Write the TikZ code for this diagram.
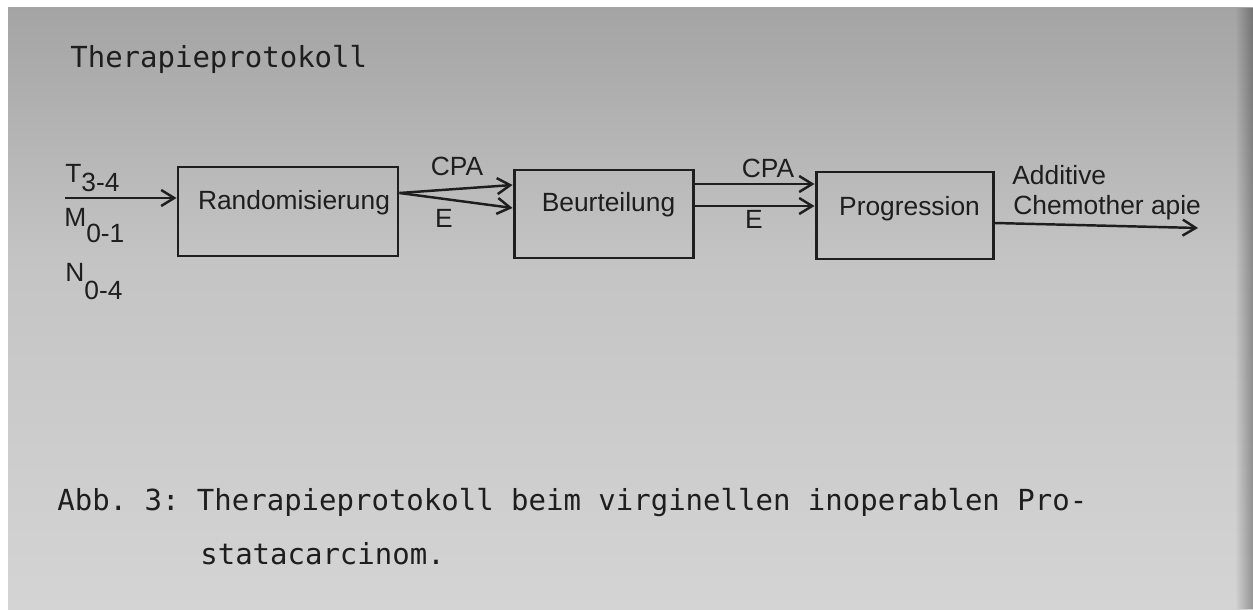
\documentclass[tikz,border=0pt]{standalone}
\usepackage{fontspec}
\setmainfont{Liberation Sans}
\setmonofont{DejaVu Sans Mono}
\usepackage{xcolor}
\definecolor{ink}{HTML}{1E1E1E}
\definecolor{papertop}{HTML}{A4A4A4}
\definecolor{papermid}{HTML}{C4C4C4}
\definecolor{paperbot}{HTML}{D4D4D4}
\usetikzlibrary{arrows.meta, positioning, calc, fadings}

\begin{document}
\begin{tikzpicture}[>={Straight Barb[length=2.6mm, width=3.2mm]},
  box/.style={draw=ink, line width=1.7pt},
  lettering/.style={font=\fontsize{15}{17}\selectfont, text=ink, inner sep=0pt},
  mono/.style={font=\ttfamily\fontsize{16.5}{19}\selectfont, text=ink, inner sep=0pt},
  arrow/.style={->, draw=ink, line width=1.4pt}]

  \useasboundingbox (0,0) rectangle (25.06,12.18);

  % Papier
  \fill[white] (0,0) rectangle (25.06,12.18);
  \shade[top color=papertop, bottom color=papermid] (0.16,7) rectangle (25.06,12.02);
  \shade[top color=papermid, bottom color=paperbot] (0.16,0) rectangle (25.06,7.01);
  \fill[black, fill opacity=0.3, path fading=west] (24.7,0) rectangle (25.06,12.02);

  % Titel
  \node[mono, anchor=base west] (title) at (1.40,10.82) {Therapieprotokoll};

  % Kaesten
  \node[box, minimum width=4.4cm, minimum height=1.78cm] (rand) at (5.76,7.95) {};
  \node[box, minimum width=3.58cm, minimum height=1.76cm] (beur) at (12.07,7.90) {};
  \node[box, minimum width=3.54cm, minimum height=1.74cm] (prog) at (18.09,7.87) {};
  \node[lettering, anchor=base] (randtext) at ([xshift=0.12cm, yshift=0.03cm]rand.center) {Randomisierung};
  \node[lettering, anchor=base] (beurtext) at ([xshift=0.1cm, yshift=0.04cm]beur.center) {Beurteilung};
  \node[lettering, anchor=base] (progtext) at ([xshift=0.1cm]prog.center) {Progression};

  % Eingang
  \node[lettering, anchor=base west] (tlabel) at (1.30,8.52) {T\raisebox{-0.18cm}{3-4}};
  \node[lettering, anchor=base west] (mlabel) at (1.28,7.64) {M\raisebox{-0.32cm}{0-1}};
  \node[lettering, anchor=base west] (nlabel) at (1.30,6.54) {N\raisebox{-0.36cm}{0-4}};
  \coordinate (tin) at (1.30,8.22);
  \draw[arrow] (tin) -- (tin -| rand.west);

  % Randomisierung -> Beurteilung
  \coordinate (rout) at ([yshift=0.37cm]rand.east);
  \draw[arrow] (rout) -- ([yshift=0.58cm]beur.west);
  \draw[arrow] (rout) -- ([yshift=0.12cm]beur.west);
  \node[lettering] (cpaone) at (9.14,8.86) {CPA};
  \node[lettering] (eone) at (8.88,7.82) {E};

  % Beurteilung -> Progression
  \draw[arrow] ([yshift=0.60cm]beur.east) -- ([yshift=0.60cm]beur.east -| prog.west);
  \draw[arrow] ([yshift=0.16cm]beur.east) -- ([yshift=0.16cm]beur.east -| prog.west);
  \node[lettering] (cpatwo) at (15.36,8.82) {CPA};
  \node[lettering] (etwo) at (15.08,7.80) {E};

  % Ausgang
  \coordinate (out) at (23.96,7.62);
  \draw[arrow] ([yshift=-0.15cm]prog.east) -- (out);
  \node[lettering, anchor=west] (addlabel) at (20.24,8.68) {Additive};
  \node[lettering, anchor=west] (chemlabel) at (20.26,8.02) {Chemother apie};

  % Legende
  \node[mono, anchor=base west] (capA) at (1.14,1.98)
    {Abb. 3: Therapieprotokoll beim virginellen inoperablen Pro-};
  \node[mono, anchor=base west] (capB) at (4.00,0.90) {statacarcinom.};

\end{tikzpicture}
\end{document}
